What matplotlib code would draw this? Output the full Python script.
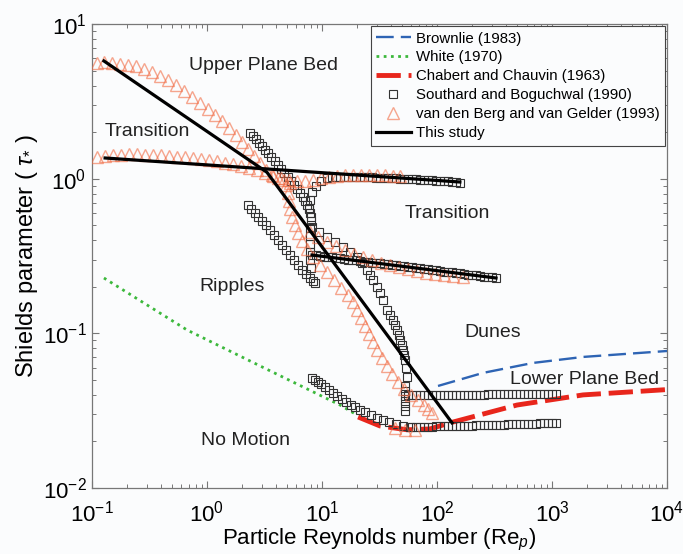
import matplotlib
matplotlib.use('Agg')
import matplotlib.pyplot as plt

plt.rcParams['font.family'] = ['Liberation Sans', 'DejaVu Sans']
plt.rcParams['mathtext.fontset'] = 'custom'
plt.rcParams['mathtext.rm'] = 'Liberation Sans'
plt.rcParams['mathtext.it'] = 'Liberation Sans:italic'

# ---- data (Re_p, Shields parameter) ----
brownlie_re = [102, 251, 684, 1862, 10000]
brownlie_tau = [0.0457, 0.0555, 0.0644, 0.0704, 0.0769]

white_re = [0.127, 0.670, 2.89, 14.35, 20.1]
white_tau = [0.228, 0.1052, 0.0616, 0.0344, 0.0297]

chabert_re = [20.6, 31.9, 54.8, 86.9, 130, 496, 1862, 10000]
chabert_tau = [0.0288, 0.0252, 0.0238, 0.0241, 0.0264, 0.0344, 0.0400, 0.0433]

# this study: three straight boundaries
study_a_re = [0.127, 3.32, 135]
study_a_tau = [5.77, 1.10, 0.0264]
study_b_re = [0.130, 158]
study_b_tau = [1.361, 0.952]
study_c_re = [8.19, 326]
study_c_tau = [0.321, 0.228]

# Southard and Boguchwal (1990)
sb_upper_re = [2.366, 2.512, 2.667, 2.833, 3.006, 3.193, 3.390, 3.601, 3.90, 4.14, 4.40, 4.67,
               5.06, 5.37, 5.71, 6.06, 6.44, 6.84, 7.11, 7.41, 7.71, 7.87, 8.02, 8.02]
sb_upper_tau = [1.973, 1.888, 1.805, 1.701, 1.626, 1.533, 1.466, 1.381, 1.302, 1.226, 1.155, 1.088,
                1.026, 0.966, 0.911, 0.858, 0.808, 0.762, 0.718, 0.676, 0.637, 0.600, 0.566, 0.533]

sb_hook_re = [7.71, 7.87, 8.19, 8.87, 9.80, 11.0,
              12.21, 13.23, 14.34, 15.54, 16.83, 18.24, 19.76, 21.40, 23.19, 25.12, 27.22,
              29.49, 31.95, 34.61, 37.50, 40.62, 44.01,
              47.68, 51.66, 55.96, 60.63, 65.69,
              71.16, 77.09, 83.52, 90.48,
              98.03, 106.2, 115.1, 124.6,
              135.0, 146.3, 158.5]
sb_hook_tau = [0.647, 0.729, 0.820, 0.897, 0.966, 1.010,
               1.026, 1.026, 1.026, 1.026, 1.026, 1.026, 1.026, 1.026, 1.026, 1.026, 1.026,
               1.010, 1.010, 1.010, 1.010, 1.010, 1.010,
               0.995, 0.995, 0.995, 0.995, 0.995,
               0.981, 0.981, 0.981, 0.981,
               0.966, 0.966, 0.966, 0.966,
               0.952, 0.952, 0.938]

sb_column_re = [7.87, 7.87, 7.87, 7.87, 7.87, 8.02]
sb_column_tau = [0.480, 0.426, 0.378, 0.336, 0.298, 0.265]

sb_trans_re = [8.19, 8.87, 9.61, 10.41, 11.27, 12.21, 13.23, 14.34, 15.54, 16.83, 18.24, 19.76,
               21.40, 23.19, 25.12, 27.22, 29.49, 31.95, 34.61, 37.50, 40.62, 44.01, 47.68, 51.66,
               55.96, 60.63, 65.69, 71.16, 77.09, 83.52, 90.48, 98.03, 106.2, 115.1, 124.6, 135.0,
               146.3, 158.5, 171.7, 186.0, 201.5, 218.3, 236.5, 256.3, 277.6, 300.8, 325.8]
sb_trans_tau = [0.321, 0.319, 0.317, 0.314, 0.312, 0.310, 0.307, 0.305, 0.303, 0.300, 0.298, 0.296,
                0.294, 0.291, 0.289, 0.287, 0.285, 0.283, 0.281, 0.279, 0.277, 0.275, 0.273, 0.271,
                0.269, 0.267, 0.265, 0.263, 0.261, 0.259, 0.257, 0.255, 0.253, 0.251, 0.249, 0.248,
                0.246, 0.244, 0.242, 0.240, 0.238, 0.237, 0.235, 0.233, 0.231, 0.230, 0.228]

sb_dunes_re = [8.19, 9.42, 11.0, 13.0, 15.23, 17.52, 20.1, 22.3, 24.6, 26.1, 27.8, 30.1, 31.9, 33.9,
               36.7, 39.0, 41.4, 43.1, 44.9, 46.7, 47.6, 49.6, 50.6, 51.6, 52.7, 53.7, 54.8]
sb_dunes_tau = [0.487, 0.452, 0.420, 0.390, 0.362, 0.336, 0.312, 0.285, 0.257, 0.238, 0.221, 0.1995,
                0.1825, 0.1644, 0.1416, 0.1315, 0.1221, 0.1133, 0.1052, 0.0976, 0.0906, 0.0841,
                0.0782, 0.0725, 0.0673, 0.0597, 0.0523]

sb_drop_re = [52.7, 52.7, 52.7, 52.7, 52.7, 52.7]
sb_drop_tau = [0.0457, 0.0424, 0.0394, 0.0366, 0.0340, 0.0315]

sb_lpb_re = [55.96, 60.63, 65.69, 71.16, 77.09, 83.52, 90.48, 98.03, 106.2, 115.1,
             124.6, 135.0, 146.3, 158.5, 171.7, 186.0, 201.5, 218.3, 236.5, 256.3,
             277.6, 300.8, 325.8, 353.0, 382.4, 414.3, 448.8, 486.3, 526.8, 570.8,
             618.4, 669.9, 725.8, 786.3, 851.9, 922.9, 1000, 1083]
sb_lpb_tau = [0.0399] * 10 + [0.0401] * 10 + [0.0403] * 10 + [0.0405] * 8

sb_ripple_re = [2.273, 2.414, 2.614, 2.776, 3.006, 3.26, 3.532, 3.83, 4.14, 4.49, 4.86, 5.27,
                5.71, 6.18, 6.70, 7.26, 7.87, 8.35, 8.69]
sb_ripple_tau = [0.676, 0.637, 0.600, 0.566, 0.533, 0.502, 0.466, 0.433, 0.402, 0.373, 0.346,
                 0.321, 0.298, 0.277, 0.257, 0.242, 0.228, 0.218, 0.212]

sb_motion_re = [8.19, 8.69, 9.23, 9.80, 10.6, 11.5, 12.5, 13.5, 14.9, 16.2, 17.9, 19.4, 21.4, 23.7,
                26.7, 30.1, 33.9, 38.3, 44.0, 50.6, 58.2,
                60.63, 65.69, 71.16, 77.09, 83.52, 90.48, 98.03, 106.2, 115.1, 124.6, 135.0,
                146.3, 158.5, 171.7, 186.0, 201.5, 218.3, 236.5, 256.3, 277.6, 300.8, 325.8,
                353.0, 382.4, 414.3, 448.8, 486.3, 526.8, 570.8, 618.4, 669.9, 725.8, 786.3,
                851.9, 922.9, 1000, 1083]
sb_motion_tau = [0.0515, 0.0500, 0.0485, 0.0471, 0.0450, 0.0431, 0.0412, 0.0394, 0.0377, 0.0360,
                 0.0344, 0.0334, 0.0320, 0.0310, 0.0297, 0.0284, 0.0275, 0.0268, 0.0260, 0.0252,
                 0.0248,
                 0.0248, 0.0248, 0.0248, 0.0249, 0.0249, 0.0249, 0.0250, 0.0250, 0.0250, 0.0251,
                 0.0251, 0.0252, 0.0252, 0.0252, 0.0253, 0.0253, 0.0254, 0.0254, 0.0255, 0.0255,
                 0.0256, 0.0256, 0.0257, 0.0257, 0.0258, 0.0258, 0.0259, 0.0259, 0.0260, 0.0260,
                 0.0261, 0.0261, 0.0262, 0.0262, 0.0263, 0.0263, 0.0264]

# van den Berg and van Gelder (1993)
vb_upper_re = [0.1105, 0.127, 0.149, 0.175, 0.2056, 0.2413, 0.2833, 0.3325, 0.390, 0.458, 0.5376,
               0.631, 0.741, 0.869, 1.020, 1.174, 1.350, 1.554, 1.788, 2.016, 2.273, 2.563, 2.891,
               3.26, 3.675, 4.14, 4.67, 5.27]
vb_upper_tau = [5.60, 5.68, 5.60, 5.51, 5.43, 5.35, 5.12, 4.90, 4.61, 4.35, 4.03, 3.69, 3.37, 3.09,
                2.82, 2.58, 2.36, 2.127, 1.915, 1.726, 1.556, 1.401, 1.262, 1.138, 1.057, 1.010,
                0.981, 0.938]

vb_trans_re = [0.1105, 0.130, 0.1522, 0.1788, 0.2098, 0.2462, 0.289, 0.339, 0.398, 0.467, 0.548,
               0.644, 0.755, 0.887, 1.041, 1.222, 1.434, 1.683, 1.975, 2.318, 2.723, 3.193, 3.749,
               4.40, 5.16, 6.06, 7.11, 8.35, 9.80, 11.5, 13.5, 15.8, 18.6, 21.8, 25.6, 30.1, 35.3,
               41.4, 47.6]
vb_trans_tau = [1.381, 1.401, 1.423, 1.423, 1.445, 1.445, 1.423, 1.423, 1.423, 1.401, 1.381, 1.381,
                1.361, 1.341, 1.321, 1.302, 1.262, 1.245, 1.208, 1.172, 1.138, 1.088, 1.041, 1.010,
                0.981, 0.966, 0.966, 0.981, 1.010, 1.026, 1.041, 1.057, 1.057, 1.057, 1.057, 1.057,
                1.057, 1.041, 1.041]

vb_ripple_re = [4.86, 5.06, 5.16, 5.27, 5.48, 5.82, 6.18, 6.70, 7.41, 8.35, 9.61, 11.0, 12.7, 14.6,
                16.8, 18.6, 20.1, 21.8, 23.7, 25.6, 27.8, 30.1, 33.2, 36.7, 40.6, 45.8, 51.6, 59.4,
                68.4, 77.1, 83.5, 90.6]
vb_ripple_tau = [0.911, 0.808, 0.718, 0.637, 0.566, 0.502, 0.446, 0.396, 0.351, 0.312, 0.277, 0.249,
                 0.221, 0.1966, 0.177, 0.1596, 0.1416, 0.1258, 0.1116, 0.0991, 0.0880, 0.0782,
                 0.0693, 0.0616, 0.0546, 0.0485, 0.0437, 0.0400, 0.0371, 0.0344, 0.0325, 0.0306]

vb_dunes_re = [7.87, 9.23, 11.0, 13.2, 15.8, 18.97, 22.7, 27.2, 32.6, 39.0, 46.7, 56.0, 67.0, 80.2,
               96.1, 115, 138, 168]
vb_dunes_tau = [0.452, 0.420, 0.390, 0.367, 0.346, 0.326, 0.312, 0.298, 0.285, 0.277, 0.2686,
                0.2608, 0.253, 0.246, 0.242, 0.238, 0.235, 0.231]

vb_motion_re = [43.1, 52.7, 64.4]
vb_motion_tau = [0.0245, 0.0237, 0.0237]

regions = ['Upper Plane Bed', 'Transition', 'Transition', 'Ripples', 'Dunes',
           'Lower Plane Bed', 'No Motion']
region_re = [3.13, 0.301, 122, 1.65, 307, 1936, 2.14]
region_tau = [5.43, 2.03, 0.600, 0.1995, 0.1006, 0.0500, 0.0202]

bg = '#fbfcfd'
sq_col = '#333333'
tri_col = '#f26b43'

fig = plt.figure(figsize=(6.83, 5.54), dpi=100, facecolor=bg)
ax = fig.add_axes([0.1347, 0.1191, 0.8419, 0.8375], facecolor=bg)
ax.set_xscale('log')
ax.set_yscale('log')

ax.plot(brownlie_re, brownlie_tau, color='#2e64b4', lw=1.7, dashes=(7.5, 3),
        label='Brownlie (1983)', zorder=3)
ax.plot(white_re, white_tau, color='#3cb83c', lw=2.0, dashes=(1, 1.6),
        label='White (1970)', zorder=3)
ax.plot(chabert_re, chabert_tau, color='#e8261c', lw=3.5, dashes=(5, 1.6),
        label='Chabert and Chauvin (1963)', zorder=3)

sq_sets = [(sb_upper_re, sb_upper_tau), (sb_hook_re, sb_hook_tau), (sb_column_re, sb_column_tau),
           (sb_trans_re, sb_trans_tau), (sb_dunes_re, sb_dunes_tau), (sb_drop_re, sb_drop_tau),
           (sb_lpb_re, sb_lpb_tau), (sb_ripple_re, sb_ripple_tau), (sb_motion_re, sb_motion_tau)]
for i, (xs, ys) in enumerate(sq_sets):
    ax.plot(xs, ys, ls='none', marker='s', ms=5.3, mfc='none', mec=sq_col, mew=0.8,
            label='Southard and Boguchwal (1990)' if i == 0 else None, zorder=4)

tri_sets = [(vb_upper_re, vb_upper_tau), (vb_trans_re, vb_trans_tau),
            (vb_ripple_re, vb_ripple_tau), (vb_dunes_re, vb_dunes_tau),
            (vb_motion_re, vb_motion_tau)]
for i, (xs, ys) in enumerate(tri_sets):
    ax.plot(xs, ys, ls='none', marker='^', ms=8, mfc='none', mec=tri_col, mew=1.0, alpha=0.6,
            label='van den Berg and van Gelder (1993)' if i == 0 else None, zorder=4)

ax.plot(study_a_re, study_a_tau, color='black', lw=2.3, label='This study', zorder=5)
ax.plot(study_b_re, study_b_tau, color='black', lw=2.3, zorder=5)
ax.plot(study_c_re, study_c_tau, color='black', lw=2.3, zorder=5)

for name, xr, yr in zip(regions, region_re, region_tau):
    ax.text(xr, yr, name, fontsize=14, color='#222222', ha='center', va='center', zorder=6)

ax.set_xlim(0.1, 1e4)
ax.set_ylim(0.01, 10)
ax.set_xlabel(r'Particle Reynolds number (Re$_{\mathit{p}}$)', fontsize=16, labelpad=0)
ax.set_ylabel(r'Shields parameter ( $\tau_{*}$ )', fontsize=17, labelpad=2)

for s in ax.spines.values():
    s.set_color('#777777')
    s.set_linewidth(0.9)
ax.tick_params(which='both', direction='in', top=True, right=True, color='#777777')
ax.tick_params(which='major', length=5, width=0.8, labelsize=16)
ax.tick_params(which='minor', length=3, width=0.7)
ax.tick_params(axis='x', which='major', pad=9)
ax.tick_params(axis='y', which='major', pad=4)

leg = ax.legend(loc='upper right', bbox_to_anchor=(1.0, 1.0), fontsize=10.8, frameon=True,
                fancybox=False, edgecolor='#444444', facecolor=bg, framealpha=1,
                borderaxespad=0.15, borderpad=0.35, labelspacing=0.33, handlelength=2.3,
                handletextpad=0.35, numpoints=1)
leg.get_frame().set_linewidth(0.8)
leg.set_zorder(7)

fig.savefig('out.png', dpi=100, facecolor=bg)
